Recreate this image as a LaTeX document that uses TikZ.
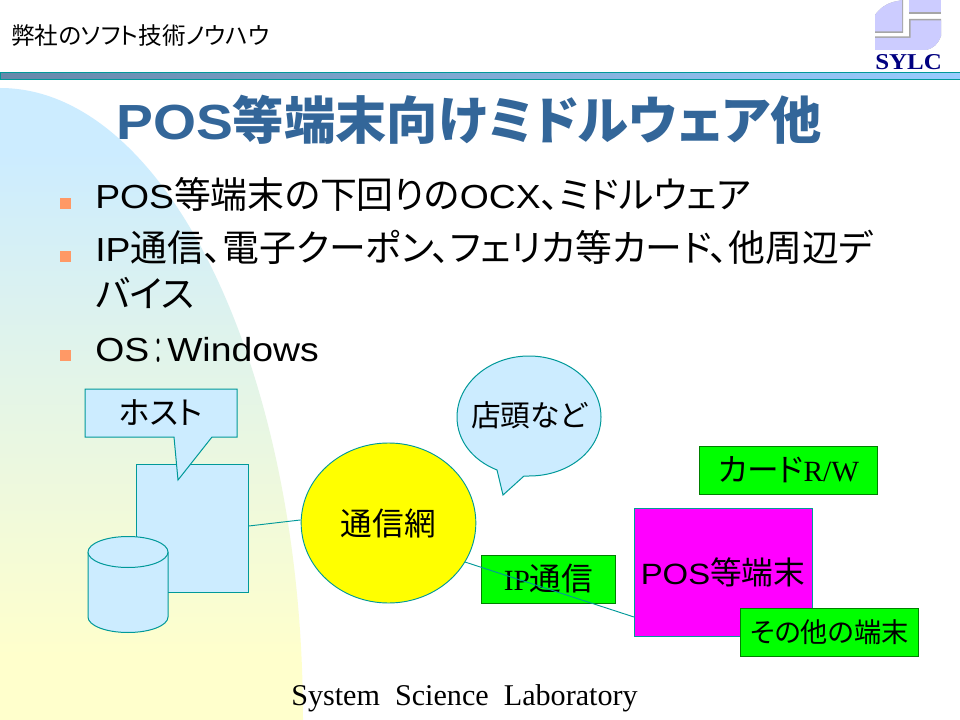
\documentclass[tikz,border=0pt]{standalone}
\usepackage{fontspec}
\setmainfont{Liberation Sans}
\newfontfamily\jp[Scale=1.08,RawFeature={+palt}]{Noto Sans CJK JP}
\newfontfamily\jpbody[Scale=1.105,RawFeature={+palt}]{Noto Sans CJK JP}
\newfontfamily\jphead[Scale=1.04,RawFeature={+palt}]{Noto Sans CJK JP}
\newfontfamily\jpplain[Scale=1.105]{Noto Sans CJK JP}
\newfontfamily\lat[FakeStretch=1.12]{Liberation Sans}
\newfontfamily\ser{Liberation Serif}
\newfontfamily\logoser[FakeStretch=1.1]{Liberation Serif}
\usetikzlibrary{shapes.geometric,calc}
\definecolor{lineteal}{HTML}{009999}
\definecolor{palesky}{HTML}{CCECFF}
\definecolor{paleyellow}{HTML}{FFFFCC}
\definecolor{titleblue}{HTML}{336699}
\definecolor{bulletorange}{HTML}{FF9966}
\definecolor{boxgreen}{HTML}{00FF00}
\definecolor{boxedge}{HTML}{008000}
\definecolor{boxyellow}{HTML}{FFFF00}
\definecolor{boxmagenta}{HTML}{FF00FF}
\definecolor{logoblue}{HTML}{CCCCFF}
\definecolor{logonavy}{HTML}{000080}
\definecolor{barleft}{HTML}{6688AA}
\definecolor{barright}{HTML}{99CCFF}
\pgfdeclareverticalshading{bgfade}{100bp}{color(0bp)=(paleyellow); color(30bp)=(paleyellow); color(70bp)=(palesky); color(100bp)=(palesky)}
\tikzset{
  skybox/.style={draw=lineteal, fill=palesky, line width=0.75pt},
  greenbox/.style={draw=boxedge, fill=boxgreen, line width=0.75pt},
  wire/.style={draw=lineteal, line width=0.7pt},
  bodyline/.style={anchor=base west, inner sep=0pt, font=\fontsize{25}{25}\selectfont},
  labeltext/.style={inner sep=0pt, font=\fontsize{22}{22}\selectfont},
  bulletmark/.style={fill=bulletorange, draw=none, minimum size=8.25pt, inner sep=0pt},
}
\begin{document}
\begin{tikzpicture}[x=0.75pt,y=-0.75pt]
  \useasboundingbox (0,0) rectangle (960,720);
  \fill[white] (0,0) rectangle (960,720);

  % background curve
  \shade[shading=bgfade] (0,88) arc[start angle=-90, end angle=0, x radius=303, y radius=632] -- (0,720) -- cycle;

  % header
  \shade[left color=barleft, right color=barright, draw=lineteal, line width=0.75pt] (0.5,72.5) rectangle (960,80);
  \node[anchor=base west, inner sep=0pt, font=\fontsize{16.4}{16.4}\selectfont\jp] (header) at (11,45) {弊社のソフト技術ノウハウ};

  % logo
  \fill[gray!70] (875,33) -- (875,15) .. controls (880,8) and (886,4) .. (893,2) -- (903,0) -- (903,33) -- cycle;
  \fill[logoblue] (875,31.5) -- (875,15) .. controls (880,8) and (886,4) .. (893,2) -- (902,0) -- (902,31.5) -- cycle;
  \fill[gray!70] (909,0) rectangle (941,14);
  \fill[logoblue] (909,0) rectangle (941,12.5);
  \fill[gray!70] (875,36.5) -- (909,36.5) -- (909,19) -- (941,19) -- (941,36) .. controls (938,44) and (934,48) .. (926,50) -- (875,50) -- cycle;
  \fill[logoblue] (875,38) -- (910.5,38) -- (910.5,20.5) -- (941,20.5) -- (941,36) .. controls (938,44) and (934,48) .. (926,50) -- (875,50) -- cycle;
  \node[inner sep=0pt, text=logonavy, font=\fontsize{17}{17}\selectfont\logoser\bfseries] (sylc) at (908.5,62.5) {SYLC};

  % title
  \node[anchor=base west, inner sep=0pt, text=titleblue, font=\fontsize{37}{37}\selectfont\bfseries] (title) at (116,140)
    {{\lat POS}{\jphead 等端末向けミドルウェア他}};

  % bullets
  \node[bulletmark] (b1) at (65.5,203.5) {};
  \node[bulletmark] (b2) at (65.5,256.5) {};
  \node[bulletmark] (b3) at (65.5,355.5) {};
  \node[bodyline] (l1) at (95,209) {{\lat POS}{\jpbody 等端末の下回りの}{\lat OCX}{\jpbody 、ミドルウェア}};
  \node[bodyline] (l2) at (95,262) {{\lat IP}{\jpbody 通信、電子クーポン、フェリカ等カード、他周辺デ}};
  \node[bodyline] (l3) at (95,307) {\jpbody バイス};
  \node[bodyline] (l4) at (95,361) {{\lat OS}\raisebox{-2.5pt}{\scalebox{0.49}[1]{\jpplain ：}}{\lat Windows}};

  % host side
  \node[skybox, minimum width=84pt, minimum height=96pt, inner sep=0pt] (host) at (192,528) {};
  \draw[skybox] (88,552) -- (88,617) arc[start angle=180, end angle=0, x radius=40, y radius=15.5] -- (168,552) arc[start angle=0, end angle=-180, x radius=40, y radius=15.5] -- cycle;
  \draw[skybox] (88,552) arc[start angle=180, end angle=0, x radius=40, y radius=15.5];
  \draw[skybox] (85,389) -- (237,389) -- (237,437) -- (212,437) -- (178,480) -- (174,437) -- (85,437) -- cycle;
  \node[labeltext] (hostlabel) at (161,413) {\jp ホスト};

  % network
  \node[ellipse, draw=lineteal, fill=boxyellow, line width=0.7pt, minimum width=131pt, minimum height=120pt, inner sep=0pt, font=\fontsize{22}{22}\selectfont\jp] (net) at (388.5,523) {通信網};
  \draw[wire] (host.2) -- (net.178);

  % shop callout
  \draw[skybox] (497,470) .. controls (472,460) and (457,440) .. (457,417) .. controls (457,384) and (489,356) .. (529,356) .. controls (569,356) and (601,384) .. (601,417) .. controls (601,450) and (569,476) .. (529,476) -- (524,476) -- (503,495) -- cycle;
  \node[inner sep=0pt, font=\fontsize{20.6}{20.6}\selectfont] (shoplabel) at (529,415) {\jp 店頭など};

  % terminals
  \node[greenbox, minimum width=134pt, minimum height=36pt, inner sep=0pt, font=\fontsize{22}{22}\selectfont] (rw) at (788.5,470) {{\jp カード}{\ser R/W}};
  \node[draw=lineteal, fill=boxmagenta, line width=0.75pt, minimum width=133.5pt, minimum height=96pt, inner sep=0pt, font=\fontsize{22}{22}\selectfont] (pos) at (723,572) {{\lat POS}{\jp 等端末}};
  \node[greenbox, minimum width=100pt, minimum height=36pt, inner sep=0pt, font=\fontsize{22}{22}\selectfont] (ip) at (548.5,579) {{\ser IP}{\jp 通信}};
  \coordinate (posin) at (634,617);
  \draw[wire] (net.-27) -- (posin);
  \node[greenbox, minimum width=134pt, minimum height=36pt, inner sep=0pt, font=\fontsize{18.9}{18.9}\selectfont\jp] (other) at (829.5,632) {その他の端末};

  % footer
  \node[anchor=base, inner sep=0pt, font=\fontsize{22.6}{22.6}\selectfont\ser] (footer) at (464.5,705) {System\ \ Science\ \ Laboratory};
\end{tikzpicture}
\end{document}
